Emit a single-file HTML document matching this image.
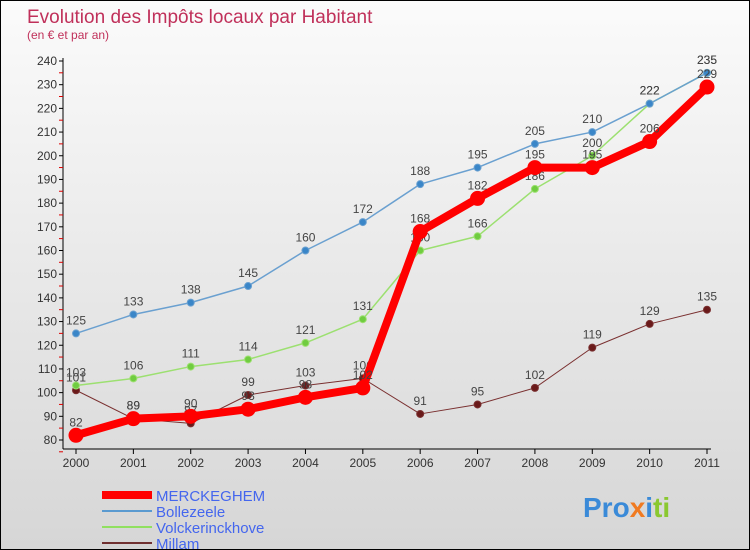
<!DOCTYPE html>
<html><head><meta charset="utf-8"><style>
body{margin:0}
#c{position:relative;width:748px;height:548px;border:1px solid #000;background:linear-gradient(#fbfbfb,#d6d6d6);font-family:"Liberation Sans",sans-serif;overflow:hidden}
</style></head><body>
<div id="c">
<svg id="s" width="748" height="548" xmlns="http://www.w3.org/2000/svg">
<text x="26" y="22" font-size="19" fill="#c0305a">Evolution des Impôts locaux par Habitant</text>
<text x="26" y="38" font-size="12" fill="#c0305a">(en € et par an)</text>
<g id="axes"></g><g id="series"></g>
<g>
<line x1="101" y1="494" x2="151" y2="494" stroke="#f00" stroke-width="8"/>
<text x="155" y="500" font-size="15" fill="#4466ee">MERCKEGHEM</text>
<line x1="101" y1="510" x2="151" y2="510" stroke="#5a9ad0" stroke-width="2"/>
<text x="155" y="516" font-size="15" fill="#4466ee">Bollezeele</text>
<line x1="101" y1="526" x2="151" y2="526" stroke="#90e060" stroke-width="2"/>
<text x="155" y="532" font-size="15" fill="#4466ee">Volckerinckhove</text>
<line x1="101" y1="542" x2="151" y2="542" stroke="#703030" stroke-width="2"/>
<text x="155" y="548" font-size="15" fill="#4466ee">Millam</text>
</g>
<text x="582" y="516" font-size="28" font-weight="bold" fill="#3a8ad8">Pro<tspan fill="#f07a20">x</tspan><tspan fill="#3a8ad8">i</tspan><tspan fill="#8ac830">ti</tspan></text>
</svg></div>
<script>
const years=[2000,2001,2002,2003,2004,2005,2006,2007,2008,2009,2010,2011];
const merckeghem=[82,89,90,93,98,102,168,182,195,195,206,229];
const bollezeele=[125,133,138,145,160,172,188,195,205,210,222,235];
const volckerinckhove=[103,106,111,114,121,131,160,166,186,200,222,235];
const millam=[101,89,87,99,103,106,91,95,102,119,129,135];
const yTicks=[80,90,100,110,120,130,140,150,160,170,180,190,200,210,220,230,240];
const NS="http://www.w3.org/2000/svg";
const X=i=>75+i*(706-75)/11;
const Y=v=>439-(v-80)*(439-60)/160;
function mk(p,t,a){const e=document.createElementNS(NS,t);for(const k in a)e.setAttribute(k,a[k]);p.appendChild(e);return e;}
const ax=document.getElementById('axes'),sg=document.getElementById('series');
const yl=mk(ax,'line',{x1:62,y1:57,x2:62,y2:448,stroke:'#000'});

const xl=mk(ax,'line',{x1:62,y1:448,x2:710,y2:448,stroke:'#000'});

yTicks.forEach(v=>{const y=Y(v);mk(ax,'line',{x1:58,y1:y,x2:62,y2:y,stroke:'#000'});
mk(ax,'line',{x1:58,y1:y+11.8,x2:62,y2:y+11.8,stroke:'#d00'});
const t=mk(ax,'text',{x:56,y:y+4,'font-size':12,fill:'#333','text-anchor':'end'});t.textContent=v;
});
years.forEach((yr,i)=>{mk(ax,'line',{x1:X(i),y1:448,x2:X(i),y2:453,stroke:'#000'});
const t=mk(ax,'text',{x:X(i),y:466,'font-size':12,fill:'#333','text-anchor':'middle'});t.textContent=yr;
});
function series(d,name,col,w,r,dot,lc){const g=mk(sg,'g',{});
const pl=mk(g,'polyline',{points:d.map((v,i)=>X(i)+','+Y(v)).join(' '),fill:'none',stroke:col,'stroke-width':w,'stroke-linejoin':'round'});

d.forEach((v,i)=>{const c=mk(g,'circle',{cx:X(i),cy:Y(v),r:r,fill:dot,stroke:col,'stroke-width':1});

const t=mk(g,'text',{x:X(i),y:Y(v)-9,'font-size':12,fill:lc,'text-anchor':'middle'});t.textContent=v;
});}
series(millam,'millam','#7a3030',1,3.5,'#6a1a1a','#444');
series(volckerinckhove,'volckerinckhove','#9ce070',1.5,3.5,'#70cc40','#444');
series(bollezeele,'bollezeele','#6aa0d0',1.5,3.5,'#3a86c8','#444');
series(merckeghem,'merckeghem','#f00',8,7,'#f00','#444');
</script></body></html>
